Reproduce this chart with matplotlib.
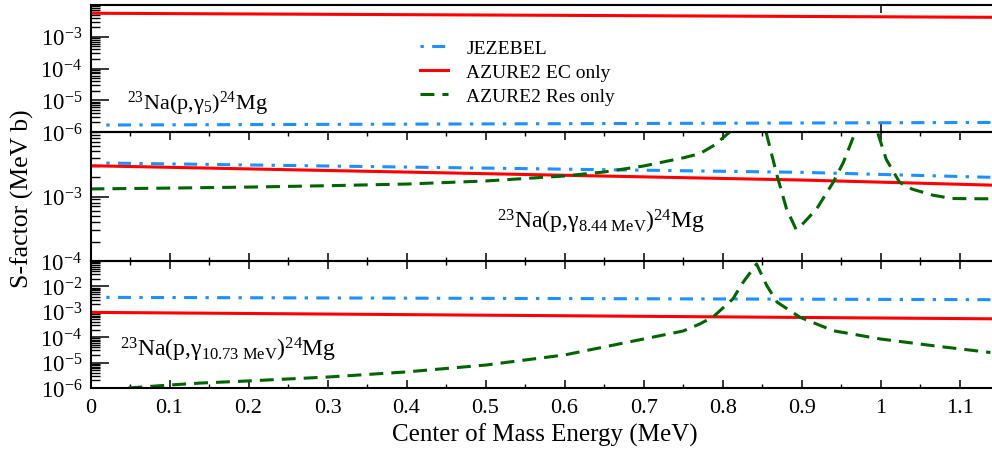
import matplotlib
matplotlib.use('Agg')
import matplotlib.pyplot as plt
from matplotlib.ticker import LogLocator, NullFormatter, LogFormatterMathtext, FixedLocator, MultipleLocator, NullLocator

plt.rcParams['font.family'] = ['Liberation Serif', 'DejaVu Serif']
plt.rcParams['mathtext.fontset'] = 'custom'
plt.rcParams['mathtext.rm'] = 'Liberation Serif'
plt.rcParams['mathtext.it'] = 'Liberation Serif:italic'
plt.rcParams['mathtext.bf'] = 'Liberation Serif:bold'
plt.rcParams['lines.scale_dashes'] = False

# ---------------- data ----------------
# top panel: 23Na(p,gamma_5)24Mg
top_jez_x = [0.02, 1.141]
top_jez = [1.66e-6, 2.0e-6]
top_ec_x = [0.0, 1.141]
top_ec = [5.5e-3, 4.1e-3]

# middle panel: 23Na(p,gamma_8.44 MeV)24Mg
mid_jez_x = [0.02, 0.9, 1.141]
mid_jez = [3.3e-3, 2.37e-3, 1.98e-3]
mid_ec_x = [0.0, 0.9, 1.141]
mid_ec = [3.0e-3, 1.8e-3, 1.5e-3]
mid_res_x = [0.0, 0.1, 0.2, 0.3, 0.4, 0.5, 0.6, 0.65, 0.7, 0.75, 0.771, 0.79,
             0.809, 0.83, 0.855, 0.869, 0.881, 0.893, 0.899, 0.919, 0.94, 0.953,
             0.968, 0.98, 0.996, 1.007, 1.024, 1.04, 1.066, 1.09, 1.141]
mid_res = [1.31e-3, 1.35e-3, 1.40e-3, 1.47e-3, 1.56e-3, 1.74e-3, 2.08e-3, 2.4e-3,
           2.97e-3, 3.97e-3, 4.6e-3, 6.3e-3,
           1.0e-2, 2.0e-2, 1.0e-2, 2.1e-3, 6.4e-4, 3.1e-4, 3.5e-4, 6.4e-4, 1.66e-3, 3.4e-3,
           1.0e-2, 2.0e-2, 1.0e-2, 3.8e-3, 1.66e-3, 1.3e-3, 1.05e-3, 9.3e-4, 9.2e-4]

# bottom panel: 23Na(p,gamma_10.73 MeV)24Mg
bot_jez_x = [0.02, 1.141]
bot_jez = [3.7e-3, 3.0e-3]
bot_ec_x = [0.0, 1.141]
bot_ec = [9.5e-4, 5.3e-4]
bot_res_x = [0.048, 0.1, 0.14, 0.2, 0.3, 0.4, 0.5, 0.6, 0.7, 0.75, 0.771, 0.788,
             0.813, 0.826, 0.843, 0.856, 0.869, 0.898, 0.94, 1.0, 1.067, 1.139]
bot_res = [1.0e-6, 1.31e-6, 1.57e-6, 1.9e-6, 2.7e-6, 4.3e-6, 8.0e-6, 2.0e-5, 8.5e-5,
           1.75e-4, 3.3e-4, 6.3e-4, 3.2e-3, 1.45e-2, 7.6e-2, 1.07e-2, 2.4e-3, 6.1e-4,
           1.8e-4, 8.5e-5, 4.6e-5, 2.5e-5]

labels = ['JEZEBEL', 'AZURE2 EC only', 'AZURE2 Res only']
ylims = [(1e-6, 1e-2), (1e-4, 1e-2), (1e-6, 1e-1)]
ylabels_shown = [[1e-3, 1e-4, 1e-5, 1e-6], [1e-3, 1e-4], [1e-2, 1e-3, 1e-4, 1e-5, 1e-6]]
xmax = 1.141

# ---------------- styles ----------------
c_jez = '#1E90FF'
c_ec = '#FF0000'
c_res = '#006400'
lw = 2.2
ls_jez = (0, (2.4, 6.0, 9.4, 6.0))
ls_res = (0, (10.0, 5.8))

fig = plt.figure(figsize=(9.92, 4.52), dpi=100)
left = 90.5 / 992
width = 1 - left
def fy(px):
    return 1 - px / 452
bounds = [(133, 6), (262, 133), (389, 262)]
axes = []
for (b, t) in bounds:
    ax = fig.add_axes([left, fy(b), width, fy(t) - fy(b)])
    axes.append(ax)

series = [
    (top_jez_x, top_jez, top_ec_x, top_ec, None, None),
    (mid_jez_x, mid_jez, mid_ec_x, mid_ec, mid_res_x, mid_res),
    (bot_jez_x, bot_jez, bot_ec_x, bot_ec, bot_res_x, bot_res),
]

for i, ax in enumerate(axes):
    jx, jy, ex, ey, rx, ry = series[i]
    ax.plot(jx, jy, color=c_jez, lw=lw, linestyle=ls_jez, dash_capstyle='butt')
    ax.plot(ex, ey, color=c_ec, lw=lw, solid_capstyle='butt')
    if rx is not None:
        ax.plot(rx, ry, color=c_res, lw=lw, linestyle=ls_res, dash_capstyle='butt')
    ax.set_yscale('log')
    ax.set_ylim(*ylims[i])
    ax.set_xlim(0, xmax)
    ax.yaxis.set_major_locator(FixedLocator(ylabels_shown[i]))
    ax.yaxis.set_major_formatter(LogFormatterMathtext())
    ax.yaxis.set_minor_locator(LogLocator(base=10, subs=range(1, 10), numticks=20))
    ax.yaxis.set_minor_formatter(NullFormatter())
    if i == 0:
        ax.xaxis.set_major_locator(FixedLocator([0, 1]))
        ax.xaxis.set_minor_locator(NullLocator())
    else:
        ax.xaxis.set_major_locator(MultipleLocator(0.1))
        ax.xaxis.set_minor_locator(MultipleLocator(0.05))
    ax.tick_params(axis='y', which='major', direction='in', length=13, width=1.1,
                   left=True, right=False, labelsize=16.5, pad=6)
    ax.tick_params(axis='y', which='minor', direction='in', length=6.5, width=1.0,
                   left=True, right=False)
    ax.tick_params(axis='x', which='major', direction='in', length=6, width=1.1,
                   top=True, bottom=True, labelsize=16, pad=7,
                   labelbottom=(i == 2))
    ax.tick_params(axis='x', which='minor', direction='in', length=3, width=1.0,
                   top=True, bottom=True)
    for s in ['left', 'top', 'bottom']:
        ax.spines[s].set_linewidth(1.5)
    ax.spines['right'].set_visible(False)
    ax.patch.set_alpha(0)

axes[2].xaxis.set_major_formatter(
    matplotlib.ticker.FuncFormatter(lambda v, p: ('%g' % round(v, 2))))

# annotations
fig.text(127 / 992, fy(110), r'$^{23}$Na(p,γ$_{5}$)$^{24}$Mg', fontsize=16, va='baseline', ha='left')
fig.text(497 / 992, fy(229), r'$^{23}$Na(p,γ$_{\mathrm{8.44\ MeV}}$)$^{24}$Mg', fontsize=17, va='baseline', ha='left')
fig.text(120 / 992, fy(357), r'$^{23}$Na(p,γ$_{\mathrm{10.73\ MeV}}$)$^{24}$Mg', fontsize=17, va='baseline', ha='left')

# legend
jez_h = plt.Line2D([], [], color=c_jez, lw=lw, linestyle=ls_jez, dash_capstyle='butt')
ec_h = plt.Line2D([], [], color=c_ec, lw=lw)
res_h = plt.Line2D([], [], color=c_res, lw=lw, linestyle=ls_res, dash_capstyle='butt')
fig.legend([jez_h, ec_h, res_h], labels, loc='center left',
           bbox_to_anchor=(420 / 992, fy(73)), bbox_transform=fig.transFigure,
           frameon=False, fontsize=14, borderpad=0, borderaxespad=0,
           handlelength=1.45, handletextpad=0.93, labelspacing=0.34)

fig.text(22 / 992, fy(199), 'S-factor (MeV b)', rotation=90, fontsize=18.5, ha='center', va='center')
fig.text(545 / 992, fy(435), 'Center of Mass Energy (MeV)', fontsize=18, ha='center', va='center')

fig.savefig('out.png', dpi=100)
